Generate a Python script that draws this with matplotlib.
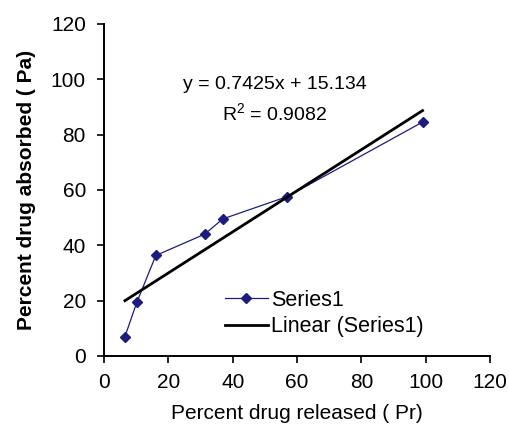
import numpy as np
import matplotlib
matplotlib.use('Agg')
import matplotlib.pyplot as plt

# Data
released = [6.5, 10.2, 16.1, 31.3, 36.9, 57.0, 99.0]
absorbed = [7.0, 19.4, 36.3, 44.0, 49.5, 57.6, 84.5]

# Trendline as given on the chart
slope = 0.7425
intercept = 15.134
r_squared = 0.9082

plt.rcParams['font.family'] = ['Liberation Sans', 'DejaVu Sans']

fig = plt.figure(figsize=(5.1, 4.33), dpi=100)
ax = fig.add_axes([0.204, 0.178, 0.757, 0.767])

ax.plot(released, absorbed, '-D', color='#1c1c80', lw=0.9, ms=5,
        label='Series1')

trend_x = np.array([released[0], released[-1]])
ax.plot(trend_x, slope * trend_x + intercept, '-', color='black', lw=2,
        label='Linear (Series1)')

ax.text(53, 98, 'y = %.4fx + %.3f' % (slope, intercept), ha='center',
        va='center', fontsize=14)
ax.text(53, 87.8, '$\\mathregular{R^2}$ = %.4f' % r_squared, ha='center',
        va='center', fontsize=14)

ax.set_xlim(0, 120)
ax.set_ylim(0, 120)
ax.set_xticks(range(0, 121, 20))
ax.set_yticks(range(0, 121, 20))
ax.tick_params(direction='out', length=5, width=1.2, labelsize=15)
ax.tick_params(axis='y', pad=8)
ax.tick_params(axis='x', pad=7)
for side in ['top', 'right']:
    ax.spines[side].set_visible(False)
for side in ['left', 'bottom']:
    ax.spines[side].set_linewidth(1.4)

ax.set_xlabel('Percent drug released ( Pr)', fontsize=15, labelpad=9)
ax.set_ylabel('Percent drug absorbed ( Pa)', fontsize=15,
              fontweight='bold', labelpad=11)

ax.legend(loc='lower left', bbox_to_anchor=(0.29, 0.03), borderaxespad=0,
          frameon=False, fontsize=15.5, handlelength=2.0, handletextpad=0.15,
          labelspacing=0.25)

fig.savefig('out.png', dpi=100)
